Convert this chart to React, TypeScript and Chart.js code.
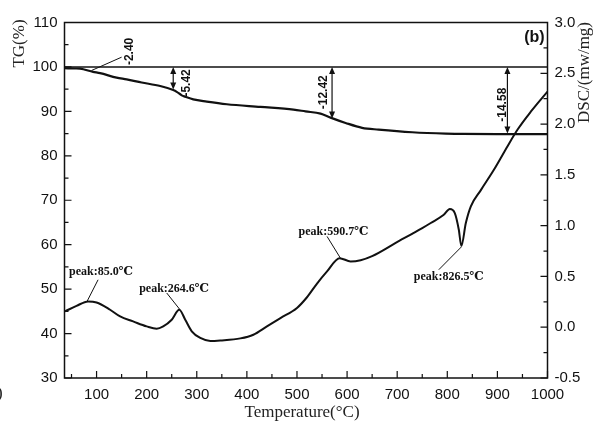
import { useEffect, useRef } from 'react';
import { Chart, registerables } from 'chart.js';
Chart.register(...registerables);

// ---- data ----
const tgTemp = [36, 57, 67, 93, 107, 140, 160, 190, 227, 253, 260, 270, 277, 293, 320, 360, 427, 493, 517, 547, 567, 597, 630, 663, 730, 797, 830, 900, 1000];
const tgValues = [99.7, 99.65, 99.6, 98.9, 98.6, 97.6, 97.2, 96.5, 95.7, 94.8, 94.4, 93.6, 93.3, 92.7, 92.2, 91.6, 91.0, 90.4, 90.0, 89.5, 88.6, 87.4, 86.3, 85.9, 85.3, 85.0, 84.95, 84.9, 84.9];

const dscTemp = [37, 60, 83, 100, 127, 147, 173, 200, 220, 233, 250, 265, 277, 290, 307, 327, 347, 387, 413, 440, 467, 500, 520, 540, 560, 585, 607, 627, 650, 697, 750, 767, 793, 805, 815, 823, 828, 837, 847, 867, 893, 920, 940, 967, 1000];
const dscValues = [0.156, 0.21, 0.254, 0.244, 0.172, 0.106, 0.057, 0.008, -0.015, 0.008, 0.074, 0.172, 0.074, -0.04, -0.106, -0.135, -0.13, -0.11, -0.074, 0.008, 0.09, 0.19, 0.295, 0.43, 0.55, 0.68, 0.648, 0.66, 0.70, 0.83, 0.976, 1.026, 1.107, 1.163, 1.124, 0.96, 0.80, 1.026, 1.19, 1.35, 1.55, 1.78, 1.944, 2.124, 2.32];

const refTemp = [36, 1000];
const refTG = [100, 100];

const xTickValues = [100, 200, 300, 400, 500, 600, 700, 800, 900, 1000];
const tgTickValues = [30, 40, 50, 60, 70, 80, 90, 100, 110];
const dscTickValues = [-0.5, 0, 0.5, 1.0, 1.5, 2.0, 2.5, 3.0];

// weight-loss annotations
const lossLabels = ['-5.42', '-12.42', '-14.58'];
const lossTemp = [253, 570, 920];
const lossLow = [94.9, 88.4, 85.0];
const lossLabelTemp = [280, 553, 910];
const lossLabelTG = [96.4, 94.3, 91.5];

// peak annotations (DSC units)
const peakLabels = ['peak:85.0℃', 'peak:264.6℃', 'peak:590.7℃', 'peak:826.5℃'];
const peakLabelTemp = [45, 185, 503, 733];
const peakLabelDSC = [0.549, 0.376, 0.943, 0.5];
const peakLineFromT = [81, 240, 560, 783];
const peakLineFromD = [0.254, 0.337, 0.894, 0.566];
const peakLineToT = [103, 266.6, 586.6, 828];
const peakLineToD = [0.467, 0.172, 0.681, 0.79];

const INK = '#111';

function arrowHead(ctx: CanvasRenderingContext2D, x: number, y: number, dir: number) {
  ctx.beginPath();
  ctx.moveTo(x, y);
  ctx.lineTo(x - 3, y + dir * 7);
  ctx.lineTo(x + 3, y + dir * 7);
  ctx.closePath();
  ctx.fill();
}

const decor = {
  id: 'decor',
  afterDatasetsDraw(chart: any) {
    const { ctx, chartArea: a, scales } = chart;
    const x = scales.x, yL = scales.yTG, yR = scales.yDSC;
    ctx.save();
    ctx.strokeStyle = INK;
    ctx.fillStyle = INK;
    // frame
    ctx.lineWidth = 1.5;
    ctx.strokeRect(a.left, a.top, a.right - a.left, a.bottom - a.top);
    // inward ticks
    ctx.lineWidth = 1.2;
    ctx.beginPath();
    xTickValues.forEach((v) => {
      const px = x.getPixelForValue(v);
      ctx.moveTo(px, a.bottom); ctx.lineTo(px, a.bottom - 7);
      const pm = x.getPixelForValue(v - 50);
      if (pm > a.left + 1) { ctx.moveTo(pm, a.bottom); ctx.lineTo(pm, a.bottom - 4); }
    });
    tgTickValues.forEach((v) => {
      const py = yL.getPixelForValue(v);
      ctx.moveTo(a.left, py); ctx.lineTo(a.left + 7, py);
      if (v > 30) { const pm = yL.getPixelForValue(v - 5); ctx.moveTo(a.left, pm); ctx.lineTo(a.left + 4, pm); }
    });
    dscTickValues.forEach((v) => {
      const py = yR.getPixelForValue(v);
      ctx.moveTo(a.right, py); ctx.lineTo(a.right - 7, py);
      if (v > -0.5) { const pm = yR.getPixelForValue(v - 0.25); ctx.moveTo(a.right, pm); ctx.lineTo(a.right - 4, pm); }
    });
    ctx.stroke();

    // -2.40 annotation
    ctx.lineWidth = 1;
    ctx.beginPath();
    ctx.moveTo(x.getPixelForValue(90), yL.getPixelForValue(99.2));
    ctx.lineTo(x.getPixelForValue(150), yL.getPixelForValue(102.2));
    ctx.stroke();
    ctx.font = 'bold 12px "Liberation Sans", Arial, sans-serif';
    ctx.textAlign = 'center';
    ctx.textBaseline = 'middle';
    const drawRot = (t: string, px: number, py: number) => {
      ctx.save(); ctx.translate(px, py); ctx.rotate(-Math.PI / 2); ctx.fillText(t, 0, 0); ctx.restore();
    };
    drawRot('-2.40', x.getPixelForValue(166.6), yL.getPixelForValue(103.5));

    // double arrows
    lossTemp.forEach((t, i) => {
      const px = x.getPixelForValue(t);
      const top = yL.getPixelForValue(100);
      const bot = yL.getPixelForValue(lossLow[i]);
      ctx.lineWidth = 1.2;
      ctx.beginPath(); ctx.moveTo(px, top + 3); ctx.lineTo(px, bot - 3); ctx.stroke();
      arrowHead(ctx, px, top, 1);
      arrowHead(ctx, px, bot, -1);
      drawRot(lossLabels[i], x.getPixelForValue(lossLabelTemp[i]), yL.getPixelForValue(lossLabelTG[i]));
    });

    // (b)
    ctx.font = 'bold 16px "Liberation Sans", Arial, sans-serif';
    ctx.fillText('(b)', x.getPixelForValue(974), yL.getPixelForValue(106.6));

    // peaks
    ctx.lineWidth = 1;
    ctx.font = 'bold 12px "Liberation Serif", "DejaVu Serif", serif';
    ctx.textAlign = 'left';
    peakLabels.forEach((t, i) => {
      ctx.beginPath();
      ctx.moveTo(x.getPixelForValue(peakLineFromT[i]), yR.getPixelForValue(peakLineFromD[i]));
      ctx.lineTo(x.getPixelForValue(peakLineToT[i]), yR.getPixelForValue(peakLineToD[i]));
      ctx.stroke();
      ctx.fillText(t, x.getPixelForValue(peakLabelTemp[i]), yR.getPixelForValue(peakLabelDSC[i]));
    });

    // axis titles
    ctx.fillStyle = '#222';
    ctx.font = '17px "Liberation Serif", "Times New Roman", serif';
    ctx.textAlign = 'center';
    drawRot('TG(%)', 20, 43.5);
    drawRot('DSC/(mw/mg)', 585, 72.5);
    ctx.fillText('Temperature(°C)', 302, 413);
    ctx.textAlign = 'left';
    ctx.fillText(')', -3, 394);
    ctx.restore();
  },
};

export default function App() {
  const ref = useRef<HTMLCanvasElement | null>(null);
  useEffect(() => {
    document.body.style.margin = '0';
    if (!ref.current) return;
    const tickFont = { family: '"Liberation Sans", Arial, sans-serif', size: 15 };
    const chart = new Chart(ref.current, {
      type: 'line',
      data: {
        datasets: [
          {
            data: refTemp.map((t, i) => ({ x: t, y: refTG[i] })),
            yAxisID: 'yTG', borderColor: INK, borderWidth: 1.5, pointRadius: 0, tension: 0,
          },
          {
            data: tgTemp.map((t, i) => ({ x: t, y: tgValues[i] })),
            yAxisID: 'yTG', borderColor: INK, borderWidth: 2.2, pointRadius: 0, cubicInterpolationMode: 'monotone',
          },
          {
            data: dscTemp.map((t, i) => ({ x: t, y: dscValues[i] })),
            yAxisID: 'yDSC', borderColor: INK, borderWidth: 2, pointRadius: 0, cubicInterpolationMode: 'monotone',
          },
        ],
      },
      options: {
        responsive: false,
        animation: false,
        devicePixelRatio: 1,
        layout: { padding: { top: 22.5, left: 0, right: 0, bottom: 0 } },
        plugins: { legend: { display: false }, tooltip: { enabled: false } },
        scales: {
          x: {
            type: 'linear', min: 36, max: 1000,
            grid: { display: false, drawTicks: false }, border: { display: false },
            ticks: { font: tickFont, color: INK, padding: 8, maxRotation: 0, callback: (v: any) => String(v) },
            afterBuildTicks: (s: any) => { s.ticks = xTickValues.map((v) => ({ value: v })); },
            afterFit: (s: any) => { s.height = 45; },
          },
          yTG: {
            type: 'linear', position: 'left', min: 30, max: 110,
            grid: { display: false, drawTicks: false }, border: { display: false },
            ticks: { font: tickFont, color: INK, padding: 7, callback: (v: any) => String(v) },
            afterBuildTicks: (s: any) => { s.ticks = tgTickValues.map((v) => ({ value: v })); },
            afterFit: (s: any) => { s.width = 64.5; },
          },
          yDSC: {
            type: 'linear', position: 'right', min: -0.5, max: 3.0,
            grid: { display: false, drawTicks: false }, border: { display: false },
            ticks: { font: tickFont, color: INK, padding: 7, callback: (v: any) => Number(v).toFixed(1) },
            afterBuildTicks: (s: any) => { s.ticks = dscTickValues.map((v) => ({ value: v })); },
            afterFit: (s: any) => { s.width = 47.5; },
          },
        },
      } as any,
      plugins: [decor],
    });
    return () => chart.destroy();
  }, []);
  return (
    <div style={{ width: 595, height: 423, background: '#fff' }}>
      <canvas ref={ref} width={595} height={423} style={{ display: 'block' }} />
    </div>
  );
}
